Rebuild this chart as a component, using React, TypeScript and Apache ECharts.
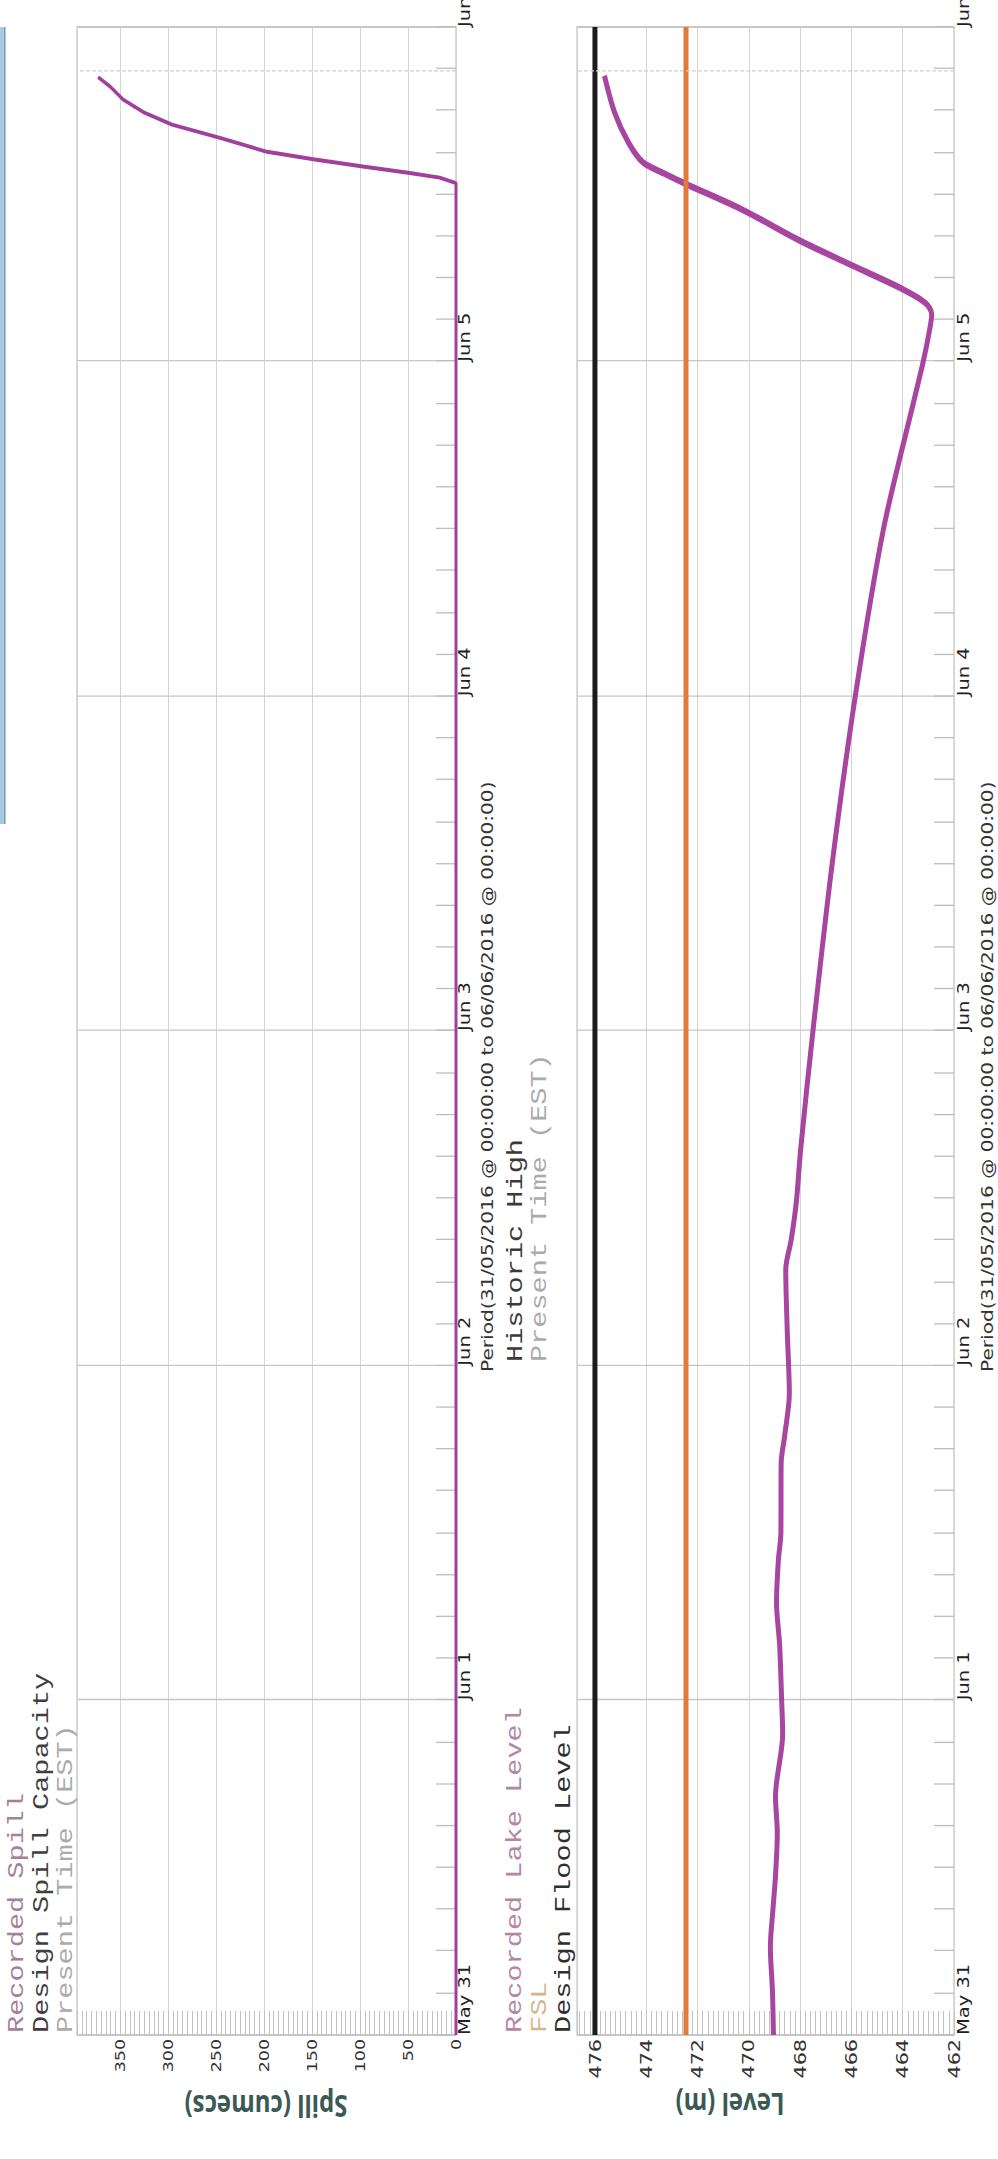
import React, { useEffect, useRef } from "react";
import * as echarts from "echarts";

// ---------- data ----------
const dayLabels = ["May 31", "Jun 1", "Jun 2", "Jun 3", "Jun 4", "Jun 5", "Jun 6"];

// hours after 31/05/2016 00:00
const spillHours = [0, 24, 48, 72, 96, 120, 132.8, 133.2, 133.55, 134.0, 134.5, 135.05, 136.05, 137.0, 137.9, 138.8, 139.7, 140.08, 140.4];
const spillValues = [0, 0, 0, 0, 0, 0, 0, 17, 50, 97, 147, 197, 246, 296, 326, 347, 360, 367, 373];

const levelHours = [0, 3.2, 6.3, 9, 11.4, 14.5, 17.1, 21.6, 24, 28, 31, 34, 36, 41, 43, 46, 50.4, 54.9, 57, 59.7, 63.5, 72, 84, 96, 108, 117.3, 120, 122.1, 123.4, 124.2, 125.2, 127, 128.7, 130.9, 132.7, 133.5, 134.3, 135.7, 137.9, 140.5];
const levelValues = [469.04, 469.08, 469.16, 469.06, 468.96, 468.89, 468.96, 468.68, 468.72, 468.8, 468.92, 468.85, 468.75, 468.74, 468.6, 468.42, 468.5, 468.56, 468.35, 468.15, 467.98, 467.5, 466.75, 465.85, 464.75, 463.55, 463.2, 462.97, 462.87, 463.11, 464.0, 466.09, 468.03, 470.25, 472.4, 473.3, 474.13, 474.69, 475.24, 475.63];

const fslLevel = 472.45;
const designFloodLevel = 476;
const presentTimeHour = 140.8;

const spillAxis = { min: 0, max: 395, interval: 50, minor: 5 };
const levelAxis = { min: 462, max: 476.7, interval: 2, minor: 0.2 };

const periodText = "Period(31/05/2016 @ 00:00:00 to 06/06/2016 @ 00:00:00)";
const spillLegend = ["Recorded Spill", "Design Spill Capacity", "Present Time (EST)"];
const levelLegend = ["Recorded Lake Level", "FSL", "Design Flood Level"];
const levelLegend2 = ["Historic High", "Present Time (EST)"];
const spillName = "Spill (cumecs)";
const levelName = "Level (m)";

// ---------- layout ----------
const PAGE_W = 998;
const PAGE_H = 2159;
const CHART_W = 1661;
const STRETCH = PAGE_H / CHART_W;
const X = (py: number) => (PAGE_H - py) / STRETCH;

const zip = (a: number[], b: number[]) => a.map((v, i) => [v, b[i]]);

export default function App() {
  const ref = useRef<HTMLDivElement>(null);

  useEffect(() => {
    if (!ref.current) return;
    const chart = echarts.init(ref.current, null, { renderer: "svg" });

    const gridLeft = X(2035);
    const gridRight = CHART_W - X(27);

    const xAxisFor = (i: number) => ({
      type: "value",
      gridIndex: i,
      min: 0,
      max: 144,
      interval: 24,
      axisLine: { show: false, onZero: false },
      axisTick: { show: true, inside: true, length: 20, lineStyle: { color: "#bdbdbd" } },
      minorTick: { show: true, splitNumber: 8, length: 20, lineStyle: { color: "#bdbdbd" } },
      splitLine: { show: true, lineStyle: { color: "#c6c6c6", width: 1 } },
      axisLabel: {
        show: true,
        align: "left",
        margin: i ? 2 : 1,
        fontFamily: "DejaVu Sans",
        fontSize: 15,
        color: "#222",
        showMinLabel: true,
        showMaxLabel: true,
        hideOverlap: false,
        formatter: (v: number) => dayLabels[Math.round(v / 24)] ?? "",
      },
    });

    const hatchAxis = (i: number, ax: any) => ({
      type: "value",
      gridIndex: i,
      position: "left",
      min: ax.min,
      max: ax.max,
      interval: ax.minor,
      axisLine: { show: false, onZero: false },
      axisLabel: { show: false },
      splitLine: { show: false },
      axisTick: { show: true, inside: true, length: 18.5, lineStyle: { color: "#c2c2c2" } },
    });

    const mainYAxis = (i: number, ax: any, fs: number) => ({
      type: "value",
      gridIndex: i,
      position: "left",
      min: ax.min,
      max: ax.max,
      interval: ax.interval,
      axisLine: { show: false, onZero: false },
      axisTick: { show: false },
      splitLine: { show: true, lineStyle: { color: "#d4d4d4", width: 1 } },
      axisLabel: {
        show: true,
        margin: 3,
        fontFamily: "DejaVu Sans",
        fontSize: fs,
        color: "#333",
        showMaxLabel: false,
        showMinLabel: true,
      },
    });

    const presentLine = {
      symbol: "none",
      silent: true,
      label: { show: false },
      lineStyle: { color: "#cfcfcf", type: "dashed", width: 1 },
      data: [{ xAxis: presentTimeHour }],
    };

    const monoText = (text: string, x: number, y: number, color: string) => ({
      type: "text",
      x,
      y,
      silent: true,
      style: {
        text,
        fill: color,
        font: '22px "Liberation Mono"',
        align: "left",
        verticalAlign: "middle",
      },
    });

    const periodEl = (y: number) => ({
      type: "text",
      x: X(1372),
      y,
      silent: true,
      style: {
        text: periodText,
        fill: "#333",
        font: '15.5px "DejaVu Sans"',
        align: "left",
        verticalAlign: "middle",
      },
    });

    const nameEl = (text: string, x: number, y: number) => ({
      type: "text",
      x,
      y,
      rotation: Math.PI / 2,
      silent: true,
      style: {
        text,
        fill: "#3b5a55",
        font: 'bold 24px "Open Sans"',
        align: "center",
        verticalAlign: "middle",
      },
    });

    const legX = X(2033);
    const leg2X = X(1362);

    chart.setOption({
      animation: false,
      backgroundColor: "#ffffff",
      grid: [
        { left: gridLeft, right: gridRight, top: 77, height: 379, show: true, borderColor: "#b5b5b5", borderWidth: 1, containLabel: false, outerBoundsMode: "none" },
        { left: gridLeft, right: gridRight, top: 577, height: 377, show: true, borderColor: "#b5b5b5", borderWidth: 1, containLabel: false, outerBoundsMode: "none" },
      ],
      xAxis: [xAxisFor(0), xAxisFor(1)],
      yAxis: [hatchAxis(0, spillAxis), mainYAxis(0, spillAxis, 13.5), hatchAxis(1, levelAxis), mainYAxis(1, levelAxis, 16)],
      series: [
        {
          name: "Recorded Spill",
          type: "line",
          xAxisIndex: 0,
          yAxisIndex: 1,
          data: zip(spillHours, spillValues),
          symbol: "none",
          showSymbol: false,
          clip: false,
          lineStyle: { color: "#a0409c", width: 3 },
          markLine: presentLine,
        },
        {
          name: "Design Flood Level",
          type: "line",
          xAxisIndex: 1,
          yAxisIndex: 3,
          data: [[0, designFloodLevel], [144, designFloodLevel]],
          symbol: "none",
          showSymbol: false,
          lineStyle: { color: "#1c1c1c", width: 5 },
        },
        {
          name: "Recorded Lake Level",
          type: "line",
          xAxisIndex: 1,
          yAxisIndex: 3,
          data: zip(levelHours, levelValues),
          symbol: "none",
          showSymbol: false,
          smooth: 0.3,
          lineStyle: { color: "#a8469f", width: 5 },
          markLine: presentLine,
        },
        {
          name: "FSL",
          type: "line",
          xAxisIndex: 1,
          yAxisIndex: 3,
          data: [[0, fslLevel], [144, fslLevel]],
          symbol: "none",
          showSymbol: false,
          lineStyle: { color: "#e07b39", width: 5 },
        },
      ],
      graphic: [
        { type: "rect", silent: true, shape: { x: X(824), y: 0, width: X(27) - X(824), height: 5 }, style: { fill: "#a9c9dc" } },
        { type: "rect", silent: true, shape: { x: X(824), y: 4.2, width: X(27) - X(824), height: 1.3 }, style: { fill: "#6b96b8" } },
        monoText(spillLegend[0], legX, 17, "#a6809a"),
        monoText(spillLegend[1], legX, 42, "#3f3f3f"),
        monoText(spillLegend[2], legX, 66, "#ababab"),
        monoText(levelLegend[0], legX, 515, "#b386a4"),
        monoText(levelLegend[1], legX, 540, "#d6b690"),
        monoText(levelLegend[2], legX, 564, "#2f2f2f"),
        monoText(levelLegend2[0], leg2X, 516, "#3a3a3a"),
        monoText(levelLegend2[1], leg2X, 540, "#ababab"),
        periodEl(487),
        periodEl(987),
        nameEl(spillName, X(2107), 266),
        nameEl(levelName, X(2105), 730),
      ],
    });

    return () => chart.dispose();
  }, []);

  return (
    <div
      style={{
        position: "absolute",
        left: 0,
        top: 0,
        width: PAGE_W,
        height: PAGE_H,
        overflow: "hidden",
        background: "#ffffff",
      }}
    >
      <div
        ref={ref}
        style={{
          position: "absolute",
          left: 0,
          top: 0,
          width: CHART_W,
          height: PAGE_W,
          transformOrigin: "0 0",
          transform: `translateY(${PAGE_H}px) scaleY(${STRETCH}) rotate(-90deg)`,
        }}
      />
    </div>
  );
}
